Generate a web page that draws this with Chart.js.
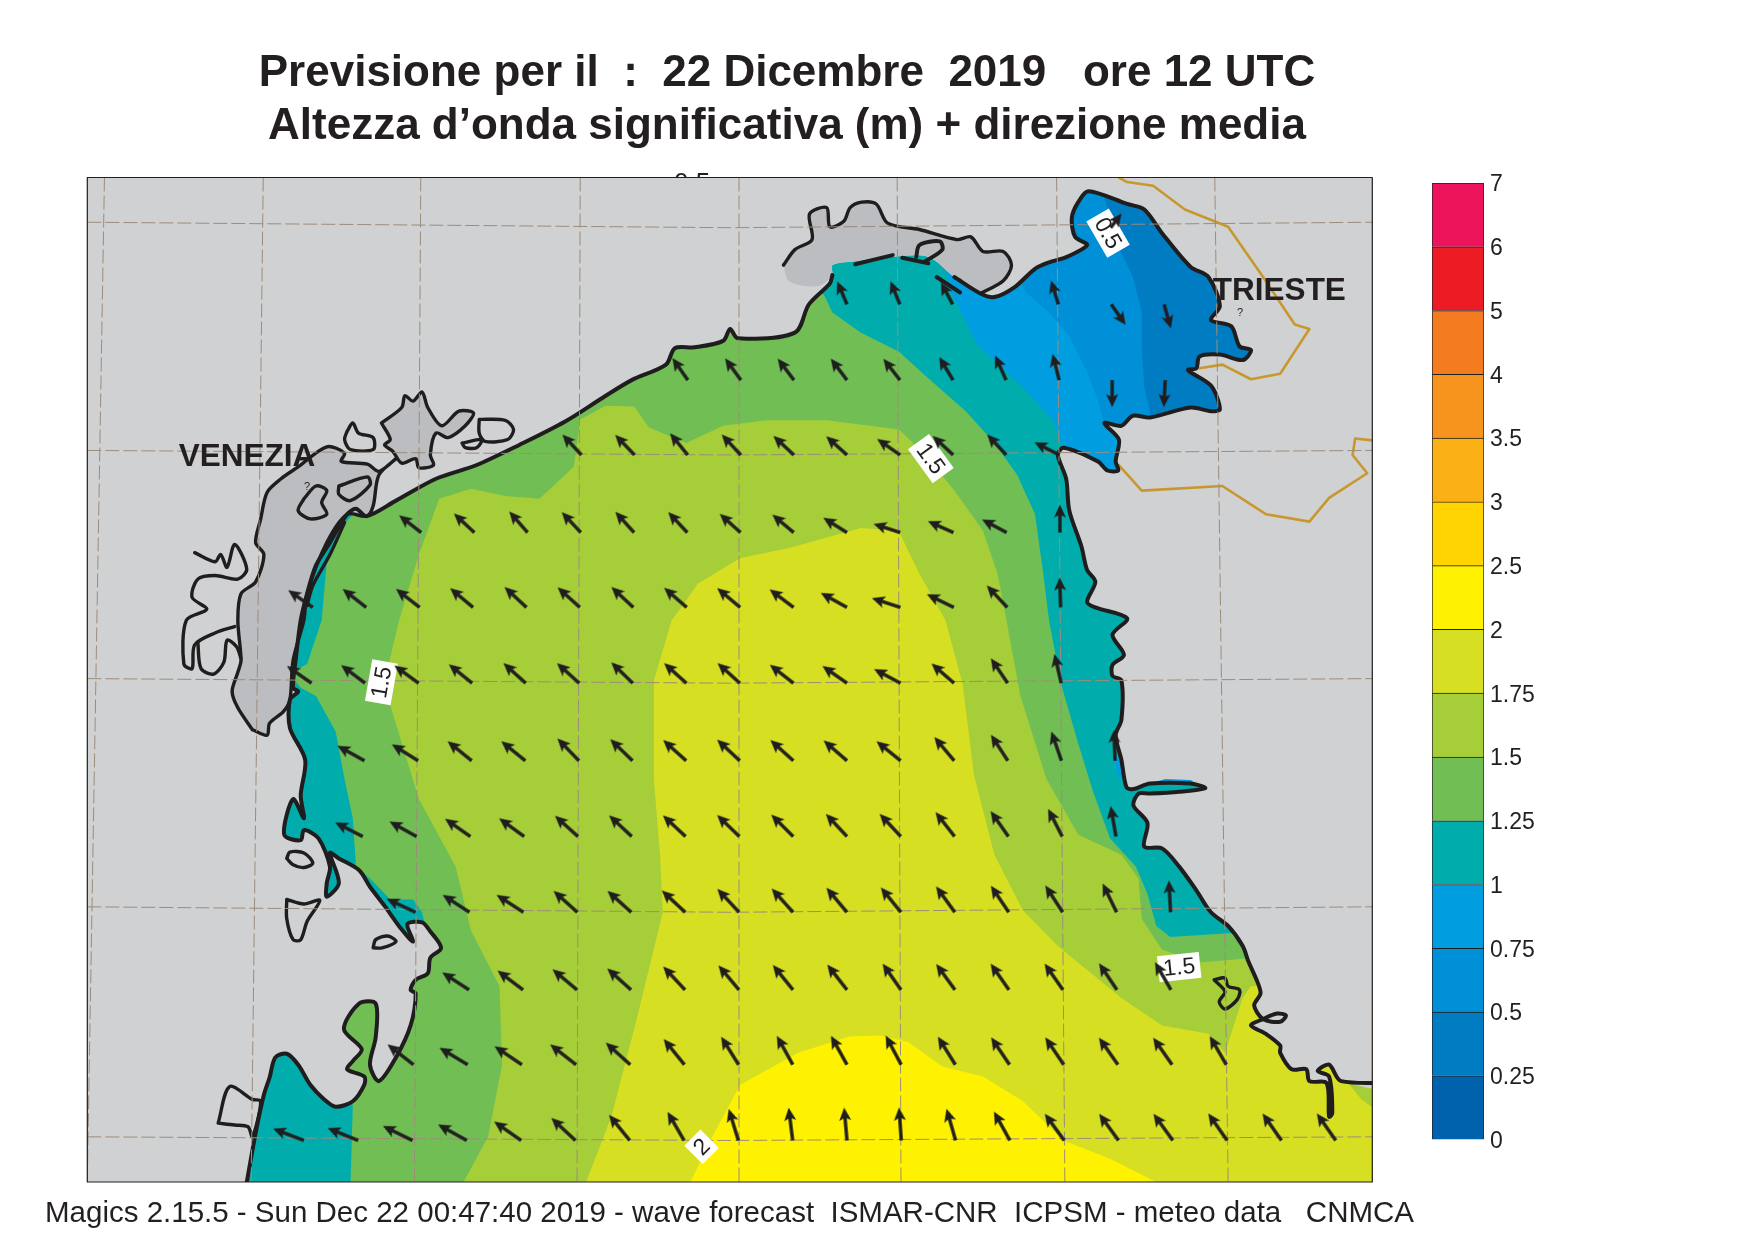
<!DOCTYPE html>
<html>
<head>
<meta charset="utf-8">
<title>Altezza d'onda significativa</title>
<script src="https://cdn.jsdelivr.net/npm/chart.js@4"></script>
<style>
  html, body { margin: 0; background: #fff; }
  #page { position: relative; width: 1755px; height: 1242px; overflow: hidden; font-family: "Liberation Sans", Arial, sans-serif; color: #231f20; }
  #mapChart { position: absolute; left: 0; top: 0; }
  #scaleChart { position: absolute; left: 1400px; top: 150px; }
  .line { position: absolute; white-space: pre; line-height: 1; text-align: center; }
  .head { left: 0; width: 1574px; font-size: 44px; font-weight: bold; }
  #foot { left: 45px; top: 1197px; font-size: 29.5px; text-align: left; }
  #cut { left: 674px; top: 169px; height: 8.5px; overflow: hidden; font-size: 26px; }
</style>
</head>
<body>
<div id="page">
  <canvas id="mapChart" width="1755" height="1242"></canvas>
  <canvas id="scaleChart" width="355" height="1030"></canvas>
  <div class="line head" style="top:49px">Previsione per il  :  22 Dicembre  2019   ore 12 UTC</div>
  <div class="line head" style="top:102px">Altezza d’onda significativa (m) + direzione media</div>
  <div class="line" id="cut">0.5</div>
  <div class="line" id="foot">Magics 2.15.5 - Sun Dec 22 00:47:40 2019 - wave forecast  ISMAR-CNR  ICPSM - meteo data   CNMCA</div>
</div>
<script>
// map window, degrees
const lonMin = 11.972, lonMax = 13.995;
const latMin = 44.6995, latMax = 45.8;

// colour scale
const scaleLabels = ["0", "0.25", "0.5", "0.75", "1", "1.25", "1.5", "1.75", "2", "2.5", "3", "3.5", "4", "5", "6", "7"];
const scaleColors = ["#0062ad", "#007cc3", "#0090d7", "#009ee0", "#00adac", "#71bf54", "#a6ce39", "#d7df23", "#fff200", "#ffd400", "#fbb116", "#f7941e", "#f47b20", "#ed1c24", "#ed145b"];

// coastline, bottom left round to the right edge
const coastWest = [[12.223,44.699],[12.237,44.753],[12.250,44.795],[12.259,44.814],[12.268,44.836],[12.286,44.840],[12.304,44.828],[12.323,44.806],[12.345,44.790],[12.363,44.782],[12.390,44.788],[12.408,44.806],[12.408,44.815],[12.381,44.823],[12.390,44.832],[12.404,44.845],[12.376,44.867],[12.400,44.895],[12.426,44.895],[12.426,44.858],[12.417,44.828],[12.431,44.810],[12.458,44.836],[12.481,44.871],[12.489,44.906],[12.481,44.910],[12.489,44.921],[12.508,44.928],[12.512,44.945],[12.529,44.956],[12.512,44.974],[12.499,44.984],[12.476,44.982],[12.485,44.963],[12.467,44.976],[12.440,45.002],[12.417,45.023],[12.400,45.041],[12.368,45.054],[12.354,45.060],[12.368,45.027],[12.349,45.012],[12.349,45.027],[12.354,45.045],[12.336,45.076],[12.313,45.085],[12.308,45.074],[12.282,45.080],[12.296,45.119],[12.313,45.098],[12.308,45.123],[12.315,45.162],[12.291,45.197],[12.291,45.228],[12.304,45.237],[12.296,45.241],[12.300,45.271],[12.308,45.315],[12.318,45.344],[12.332,45.375],[12.354,45.400],[12.381,45.431],[12.395,45.437],[12.412,45.429],[12.458,45.446],[12.521,45.470],[12.585,45.485],[12.652,45.507],[12.725,45.533],[12.784,45.559],[12.829,45.578],[12.883,45.595],[12.897,45.613],[12.928,45.614],[12.973,45.621],[12.984,45.634],[12.996,45.624],[13.086,45.630],[13.108,45.661],[13.141,45.684],[13.145,45.693]];
const coastGrado = [[13.145,45.704],[13.178,45.708],[13.236,45.713],[13.296,45.713]];
const coastEast = [[13.337,45.691],[13.378,45.673],[13.400,45.669],[13.432,45.680],[13.464,45.700],[13.486,45.707],[13.514,45.713],[13.546,45.726],[13.527,45.735],[13.522,45.756],[13.532,45.773],[13.548,45.785],[13.609,45.771],[13.636,45.765],[13.664,45.739],[13.709,45.702],[13.737,45.691],[13.755,45.659],[13.741,45.644],[13.773,45.637],[13.786,45.615],[13.804,45.611],[13.791,45.600],[13.755,45.606],[13.723,45.604],[13.718,45.591],[13.705,45.589],[13.741,45.572],[13.755,45.546],[13.741,45.544],[13.709,45.548],[13.645,45.537],[13.618,45.539],[13.600,45.528],[13.573,45.531],[13.596,45.513],[13.591,45.489],[13.595,45.479],[13.578,45.479],[13.563,45.489],[13.509,45.504],[13.500,45.496],[13.513,45.470],[13.518,45.435],[13.537,45.396],[13.546,45.370],[13.559,45.357],[13.546,45.335],[13.559,45.329],[13.609,45.317],[13.586,45.299],[13.604,45.277],[13.586,45.266],[13.586,45.254],[13.600,45.249],[13.600,45.206],[13.591,45.189],[13.600,45.162],[13.608,45.132],[13.619,45.130],[13.645,45.136],[13.709,45.136],[13.732,45.131],[13.691,45.127],[13.645,45.125],[13.627,45.125],[13.619,45.112],[13.641,45.093],[13.636,45.067],[13.664,45.065],[13.691,45.045],[13.718,45.019],[13.741,44.995],[13.768,44.980],[13.791,44.958],[13.800,44.941],[13.814,44.919],[13.819,44.906],[13.809,44.893],[13.823,44.878],[13.850,44.875],[13.859,44.882],[13.845,44.884],[13.823,44.878],[13.804,44.871],[13.827,44.862],[13.850,44.849],[13.850,44.841],[13.868,44.823],[13.891,44.823],[13.896,44.810],[13.923,44.808],[13.927,44.771],[13.932,44.775],[13.927,44.815],[13.909,44.821],[13.927,44.828],[13.946,44.810],[14.050,44.809]];
const landCorners = [[14.050,45.850],[11.900,45.850],[11.900,44.650],[12.223,44.650]];
const gradoBlobs = [[[13.181,45.705],[13.240,45.715]],[[13.255,45.712],[13.296,45.706]],[[13.277,45.713],[13.282,45.726],[13.314,45.730],[13.318,45.721],[13.291,45.708]],[[13.309,45.691],[13.346,45.674]]];

// lagoons, darker grey
const veniceLagoon = [[12.232,45.195],[12.209,45.219],[12.200,45.237],[12.209,45.258],[12.214,45.271],[12.209,45.315],[12.214,45.344],[12.237,45.357],[12.250,45.387],[12.237,45.400],[12.245,45.426],[12.255,45.455],[12.277,45.470],[12.304,45.483],[12.349,45.505],[12.377,45.498],[12.372,45.489],[12.413,45.486],[12.431,45.478],[12.458,45.492],[12.431,45.474],[12.422,45.440],[12.412,45.429],[12.381,45.431],[12.349,45.400],[12.318,45.344],[12.313,45.315],[12.296,45.271],[12.291,45.228],[12.281,45.215],[12.259,45.202],[12.255,45.189],[12.232,45.195]];
const northLagoon = [[12.435,45.531],[12.467,45.548],[12.472,45.561],[12.485,45.555],[12.499,45.565],[12.508,45.548],[12.530,45.528],[12.557,45.544],[12.580,45.542],[12.567,45.528],[12.540,45.515],[12.521,45.520],[12.512,45.496],[12.517,45.485],[12.494,45.482],[12.489,45.492],[12.467,45.487],[12.453,45.500],[12.440,45.507],[12.449,45.513],[12.435,45.531]];
const gradoLagoon = [[13.068,45.704],[13.086,45.721],[13.113,45.732],[13.109,45.760],[13.136,45.767],[13.141,45.746],[13.163,45.752],[13.173,45.767],[13.191,45.773],[13.214,45.771],[13.232,45.750],[13.282,45.743],[13.341,45.732],[13.363,45.735],[13.382,45.719],[13.414,45.719],[13.427,45.704],[13.414,45.687],[13.378,45.673],[13.337,45.691],[13.296,45.713],[13.236,45.713],[13.178,45.708],[13.145,45.704],[13.145,45.693],[13.122,45.681],[13.077,45.686],[13.068,45.704]];
const gradoEdge = gradoLagoon.slice(0, 19);

// other outlines, marshes and islands
const outlines = [
  [[12.141,45.389],[12.173,45.379],[12.182,45.387],[12.192,45.373],[12.204,45.398],[12.223,45.371],[12.209,45.360],[12.173,45.364],[12.146,45.360],[12.137,45.340],[12.160,45.327],[12.128,45.315],[12.124,45.267],[12.137,45.262],[12.141,45.288],[12.173,45.301],[12.204,45.308]],
  [[12.146,45.291],[12.151,45.262],[12.171,45.256],[12.187,45.269],[12.192,45.293],[12.207,45.286],[12.214,45.273]],
  [[12.381,45.522],[12.390,45.531],[12.399,45.520],[12.422,45.515],[12.422,45.502],[12.386,45.502],[12.377,45.513],[12.381,45.522]],
  [[12.589,45.535],[12.630,45.534],[12.643,45.524],[12.634,45.513],[12.598,45.511],[12.589,45.520],[12.589,45.535]],
  [[12.562,45.509],[12.593,45.513],[12.585,45.504],[12.567,45.504],[12.562,45.509]],
  [[12.368,45.462],[12.413,45.472],[12.417,45.463],[12.386,45.446],[12.368,45.453],[12.368,45.462]],
  [[12.313,45.448],[12.332,45.462],[12.349,45.457],[12.341,45.444],[12.349,45.431],[12.323,45.426],[12.304,45.435],[12.313,45.448]],
  [[12.377,45.422],[12.354,45.387],[12.327,45.353],[12.318,45.331]],
  [[12.286,45.054],[12.291,45.061],[12.313,45.060],[12.327,45.049],[12.313,45.044],[12.296,45.047],[12.286,45.054]],
  [[12.286,45.009],[12.313,45.004],[12.338,45.008],[12.318,44.985],[12.308,44.965],[12.296,44.965],[12.286,44.988],[12.286,45.009]],
  [[12.422,44.956],[12.426,44.965],[12.445,44.969],[12.458,44.963],[12.436,44.956],[12.422,44.956]],
  [[12.178,44.764],[12.196,44.804],[12.232,44.790],[12.245,44.788],[12.232,44.749],[12.225,44.760],[12.204,44.762],[12.178,44.764]],
  [[13.746,44.921],[13.763,44.923],[13.768,44.914],[13.786,44.910],[13.782,44.899],[13.763,44.889],[13.754,44.897],[13.763,44.908],[13.746,44.921]],
];

// state border
const borderNorth = [[13.596,45.800],[13.609,45.795],[13.650,45.791],[13.700,45.765],[13.768,45.746],[13.823,45.691],[13.873,45.639],[13.896,45.634],[13.850,45.585],[13.804,45.579],[13.759,45.595],[13.723,45.591]];
const borderSouth = [[13.596,45.485],[13.632,45.457],[13.759,45.462],[13.828,45.431],[13.896,45.423],[13.927,45.449],[13.987,45.476],[13.964,45.496],[13.968,45.514],[13.995,45.512]];

// wave height bands
const band075 = [[13.323,45.715],[13.323,45.699],[13.332,45.674],[13.373,45.617],[13.445,45.570],[13.491,45.535],[13.509,45.504],[13.582,45.468],[13.882,45.468],[13.882,45.808],[13.504,45.808],[13.409,45.731]];
const band050 = [[13.425,45.709],[13.450,45.674],[13.486,45.652],[13.518,45.626],[13.546,45.587],[13.563,45.556],[13.576,45.523],[13.882,45.523],[13.882,45.808],[13.567,45.808],[13.504,45.742]];
const band025 = [[13.582,45.759],[13.600,45.717],[13.618,45.691],[13.632,45.652],[13.632,45.613],[13.636,45.570],[13.645,45.544],[13.645,45.512],[13.882,45.512],[13.882,45.808],[13.559,45.808]];
const band125 = [[13.132,45.671],[13.145,45.652],[13.190,45.630],[13.250,45.609],[13.291,45.583],[13.355,45.544],[13.400,45.509],[13.436,45.474],[13.464,45.431],[13.477,45.366],[13.486,45.315],[13.505,45.245],[13.532,45.180],[13.555,45.128],[13.582,45.076],[13.623,45.045],[13.641,45.015],[13.655,44.980],[13.677,44.968],[13.768,44.972],[13.882,44.973],[14.039,44.690],[12.386,44.690],[12.390,44.782],[12.370,44.854],[12.370,44.909],[12.464,44.953],[12.504,44.980],[12.499,44.995],[12.485,45.009],[12.449,45.009],[12.420,45.030],[12.395,45.045],[12.390,45.098],[12.377,45.141],[12.363,45.193],[12.332,45.232],[12.308,45.241],[12.294,45.253],[12.307,45.263],[12.318,45.267],[12.341,45.315],[12.349,45.379],[12.368,45.413],[12.395,45.435],[12.370,45.512],[12.779,45.633],[12.937,45.666],[13.094,45.699]];
const band150 = [[12.788,45.550],[12.833,45.549],[12.856,45.526],[12.915,45.509],[12.973,45.528],[13.041,45.534],[13.136,45.534],[13.250,45.524],[13.291,45.496],[13.337,45.457],[13.382,45.413],[13.405,45.366],[13.419,45.315],[13.441,45.232],[13.482,45.141],[13.532,45.080],[13.600,45.058],[13.627,45.032],[13.632,44.988],[13.664,44.954],[13.723,44.940],[13.791,44.944],[13.882,44.944],[14.039,44.690],[12.557,44.690],[12.603,44.749],[12.625,44.828],[12.621,44.914],[12.576,44.975],[12.552,45.045],[12.494,45.119],[12.448,45.224],[12.448,45.271],[12.463,45.315],[12.494,45.387],[12.526,45.448],[12.576,45.459],[12.630,45.451],[12.684,45.448],[12.738,45.483],[12.748,45.535]];
const band175 = [[12.905,45.327],[12.933,45.355],[13.000,45.383],[13.077,45.394],[13.190,45.416],[13.250,45.413],[13.260,45.397],[13.282,45.366],[13.323,45.315],[13.350,45.245],[13.368,45.145],[13.400,45.058],[13.445,44.997],[13.500,44.958],[13.600,44.901],[13.664,44.871],[13.737,44.862],[13.763,44.841],[13.791,44.901],[13.804,44.914],[13.882,44.914],[14.039,44.898],[14.039,44.690],[12.752,44.690],[12.797,44.771],[12.833,44.867],[12.856,44.932],[12.878,44.995],[12.874,45.054],[12.864,45.141],[12.864,45.249],[12.892,45.315]];
const band200 = [[12.915,44.690],[12.956,44.749],[13.000,44.806],[13.091,44.841],[13.172,44.859],[13.219,44.860],[13.264,44.853],[13.318,44.826],[13.382,44.815],[13.445,44.788],[13.509,44.745],[13.582,44.725],[13.682,44.690]];
const cornerPatch = [[13.959,44.806],[13.978,44.790],[13.995,44.781],[14.007,44.781],[14.007,44.816],[13.959,44.816]];
const blueSpot = [[13.587,45.167],[13.600,45.164],[13.606,45.145],[13.595,45.142]];
const blueSpit = [[13.645,45.136],[13.669,45.141],[13.709,45.140],[13.721,45.135]];

// graticule: meridians top to bottom, parallels edge and middle
const meridianTop = [11.999, 12.249, 12.497, 12.748, 12.998, 13.247, 13.498, 13.747];
const meridianBottom = [11.972, 12.230, 12.487, 12.743, 12.998, 13.253, 13.511, 13.768];
const parallelEdge = [45.751, 45.501, 45.251, 45.001, 44.749];
const parallelMid = [45.745, 45.496, 45.246, 44.995, 44.745];
const gridMidLon = 12.984;

// mean direction, degrees clockwise from north, tails on the wave model grid
const _ = null;
const arrowLats = [45.745, 45.661, 45.578, 45.496, 45.411, 45.329, 45.246, 45.161, 45.078, 44.995, 44.910, 44.828, 44.745];
const arrowSteps = [0.0830, 0.0832, 0.0835, 0.0836, 0.0838, 0.0841, 0.0843, 0.0844, 0.0847, 0.0849, 0.0850, 0.0853, 0.0855];
const arrowMidLon = 13.168;
const arrowDirs = [
  [_,_,_,_,_,_,_,_,_,_,_,_,_,_,_,38,_,_,_,_],
  [_,_,_,_,_,_,_,_,_,_,-23,-22,-28,_,-17,145,164,_,_,_],
  [_,_,_,_,_,_,_,-35,-36,-37,-37,-38,-31,-24,-14,180,183,_,_,_],
  [_,_,_,_,_,-43,-44,-39,-43,-47,-48,-55,-47,-43,-63,_,_,_,_,_],
  [_,_,-52,-47,-41,-43,-42,-43,-48,-50,-58,-72,-66,-62,0,_,_,_,_,_],
  [-55,-52,-52,-50,-47,-48,-47,-49,-50,-53,-61,-72,-64,-43,-2,_,_,_,_,_],
  [-55,-53,-54,-51,-48,-48,-46,-48,-48,-52,-55,-62,-49,-34,-13,_,_,_,_,_],
  [_,-61,-58,-51,-51,-44,-46,-48,-47,-48,-49,-51,-40,-33,-19,-2,_,_,_,_],
  [_,-63,-61,-55,-54,-48,-47,-47,-46,-45,-43,-43,-38,-35,-27,-10,_,_,_,_],
  [_,_,-65,-57,-57,-48,-48,-47,-43,-42,-40,-39,-36,-34,-33,-26,-3,_,_,_],
  [_,_,_,-57,-53,-50,-48,-43,-40,-39,-38,-35,-36,-35,-35,-34,-30,_,_,_],
  [_,_,-52,-59,-56,-52,-48,-39,-32,-29,-29,-28,-32,-34,-34,-35,-35,-30,_,_],
  [-69,-68,-64,-61,-55,-47,-39,-30,-17,-7,-5,-4,-16,-29,-36,-36,-36,-35,-35,-35],
];

// contour labels and place names
const contourTexts = ["0.5", "1.5", "1.5", "1.5", "2"];
const contourLons = [13.579, 13.300, 12.435, 13.691, 12.939];
const contourLats = [45.739, 45.492, 45.247, 44.935, 44.738];
const contourAngles = [60, 54, -80, -6, -45];
const placeNames = ["VENEZIA", "TRIESTE"];
const placeLons = [12.116, 13.744];
const placeLats = [45.484, 45.666];
const cityLons = [12.318, 13.787];
const cityLats = [45.458, 45.648];

const LAND = "#d0d1d3";
const LAGOON = "#bcbdc0";
const COAST = "#1f1d1e";
const GRID = "#9c8c7a";
const CURVE = 0.3;

const toPoints = (pairs) => pairs.map(([x, y]) => ({ x, y }));

function area(label, pairs, color, tension = 0) {
  return { label, data: toPoints(pairs), fill: "shape", backgroundColor: color, borderWidth: 0, pointRadius: 0, tension };
}

function outline(label, pairs, color, width, tension = CURVE) {
  return { label, data: toPoints(pairs), fill: false, borderColor: color, borderWidth: width, pointRadius: 0, tension, borderJoinStyle: "round", borderCapStyle: "round" };
}

function gridLine(label, pairs) {
  return { ...outline(label, pairs, GRID, 1, 0), borderDash: [14, 4], borderCapStyle: "butt" };
}

const glyphs = {};
function arrowGlyph(len) {
  if (glyphs[len]) return glyphs[len];
  const size = 2 * len + 6;
  const mid = size / 2;
  const c = document.createElement("canvas");
  c.width = c.height = size;
  const g = c.getContext("2d");
  g.strokeStyle = g.fillStyle = COAST;
  g.lineWidth = 3.4;
  g.beginPath();
  g.moveTo(mid, mid);
  g.lineTo(mid, mid - len + 8);
  g.stroke();
  g.beginPath();
  g.moveTo(mid, mid - len);
  g.lineTo(mid - 6, mid - len + 13);
  g.lineTo(mid, mid - len + 10);
  g.lineTo(mid + 6, mid - len + 13);
  g.closePath();
  g.fill();
  glyphs[len] = c;
  return c;
}

// drawn length per row, shorter where the sea is lower
const rowLengths = [18, 25, 27, 28, 28, 30, 30, 31, 31, 32, 32, 33, 33];

const arrowPoints = [];
arrowDirs.forEach((row, r) => {
  row.forEach((dir, c) => {
    if (dir === null) return;
    arrowPoints.push({ x: arrowMidLon + (c - 10) * arrowSteps[r], y: arrowLats[r], dir, len: rowLengths[r] });
  });
});

const meridians = meridianTop.map((lon, i) => [[lon, latMax], [meridianBottom[i], latMin]]);
const parallels = parallelEdge.map((lat, i) => [[lonMin, lat], [gridMidLon, parallelMid[i]], [lonMax, lat]]);
const frame = [[lonMin, latMin], [lonMax, latMin], [lonMax, latMax], [lonMin, latMax], [lonMin, latMin]];

// painter's order, first entry is the bottom layer
const layers = [
  area("sea", frame, scaleColors[4]),
  area("0.75", band075, scaleColors[3]),
  area("0.5", band050, scaleColors[2]),
  area("0.25", band025, scaleColors[1]),
  area("spot", blueSpot, scaleColors[3]),
  area("1.25", band125, scaleColors[5]),
  area("1.5", band150, scaleColors[6]),
  area("1.75", band175, scaleColors[7]),
  area("corner", cornerPatch, scaleColors[6]),
  area("2", band200, scaleColors[8]),
  area("land", [...coastWest, ...coastGrado, ...coastEast, ...landCorners], LAND, CURVE),
  area("spit", blueSpit, scaleColors[3]),
  area("venice lagoon", veniceLagoon, LAGOON, CURVE),
  area("north lagoon", northLagoon, LAGOON, CURVE),
  area("grado lagoon", gradoLagoon, LAGOON, CURVE),
  outline("border north", borderNorth, "#c8982e", 2.6, 0),
  outline("border south", borderSouth, "#c8982e", 2.6, 0),
  outline("venice edge", veniceLagoon, COAST, 3.4),
  outline("north edge", northLagoon, COAST, 3.4),
  outline("grado edge", gradoEdge, COAST, 3.4),
  ...outlines.map((p, i) => outline("outline " + i, p, COAST, 3.4)),
  ...gradoBlobs.map((p, i) => outline("blob " + i, p, COAST, 4)),
  outline("coast west", coastWest, COAST, 4),
  outline("coast east", coastEast, COAST, 4),
  ...meridians.map((p, i) => gridLine("meridian " + i, p)),
  ...parallels.map((p, i) => gridLine("parallel " + i, p)),
  { ...outline("frame", frame, "#231f20", 1.2, 0), clip: false },
  {
    type: "scatter",
    label: "direzione",
    data: arrowPoints,
    showLine: false,
    pointStyle: (ctx) => arrowGlyph(ctx.raw ? ctx.raw.len : 30),
    pointRadius: 6,
    rotation: (ctx) => (ctx.raw ? ctx.raw.dir : 0),
  },
];

// contour labels go under the arrows, place names on top
const mapText = {
  id: "mapText",
  beforeDatasetDraw(chart, args) {
    if (chart.data.datasets[args.index].label !== "direzione") return;
    const { ctx, scales } = chart;
    ctx.save();
    ctx.font = '23px "Liberation Sans"';
    ctx.textAlign = "center";
    ctx.textBaseline = "middle";
    contourTexts.forEach((text, i) => {
      const w = ctx.measureText(text).width + 10;
      ctx.save();
      ctx.translate(scales.x.getPixelForValue(contourLons[i]), scales.y.getPixelForValue(contourLats[i]));
      ctx.rotate((contourAngles[i] * Math.PI) / 180);
      ctx.fillStyle = "#fff";
      ctx.fillRect(-w / 2, -13, w, 26);
      ctx.fillStyle = "#231f20";
      ctx.fillText(text, 0, 1);
      ctx.restore();
    });
    ctx.restore();
  },
  afterDatasetsDraw(chart) {
    const { ctx, scales } = chart;
    ctx.save();
    ctx.fillStyle = "#231f20";
    ctx.textBaseline = "alphabetic";
    ctx.textAlign = "left";
    ctx.font = 'bold 31.5px "Liberation Sans"';
    placeNames.forEach((name, i) => {
      ctx.fillText(name, scales.x.getPixelForValue(placeLons[i]), scales.y.getPixelForValue(placeLats[i]));
    });
    ctx.font = '11px "Liberation Sans"';
    ctx.textAlign = "center";
    cityLons.forEach((lon, i) => {
      ctx.fillText("?", scales.x.getPixelForValue(lon), scales.y.getPixelForValue(cityLats[i]));
    });
    ctx.restore();
  },
};

new Chart(document.getElementById("mapChart"), {
  type: "line",
  data: { datasets: layers.reverse() },
  plugins: [mapText],
  options: {
    responsive: false,
    animation: false,
    events: [],
    layout: { padding: { left: 87.3, top: 177.5, right: 382.7, bottom: 60 } },
    plugins: { legend: { display: false }, tooltip: { enabled: false } },
    scales: {
      x: { type: "linear", min: lonMin, max: lonMax, display: false },
      y: { type: "linear", min: latMin, max: latMax, display: false },
    },
  },
});

new Chart(document.getElementById("scaleChart"), {
  type: "bar",
  data: {
    labels: [""],
    datasets: scaleColors.map((color, i) => ({
      label: scaleLabels[i],
      data: [1],
      backgroundColor: color,
      borderColor: "#231f20",
      borderWidth: 1,
      barPercentage: 1,
      categoryPercentage: 1,
    })),
  },
  options: {
    responsive: false,
    animation: false,
    events: [],
    layout: { padding: { left: 32, top: 33, right: 0, bottom: 40.4 } },
    plugins: { legend: { display: false }, tooltip: { enabled: false } },
    scales: {
      x: { stacked: true, display: false },
      y: {
        stacked: true,
        position: "right",
        min: 0,
        max: scaleLabels.length - 1,
        afterFit: (scale) => { scale.width = 271; },
        grid: { display: false, drawTicks: false },
        border: { display: false },
        ticks: {
          stepSize: 1,
          padding: 6,
          labelOffset: 2,
          autoSkip: false,
          color: "#231f20",
          font: { family: "Liberation Sans", size: 23 },
          callback: (value) => scaleLabels[value],
        },
      },
    },
  },
});
</script>
</body>
</html>
